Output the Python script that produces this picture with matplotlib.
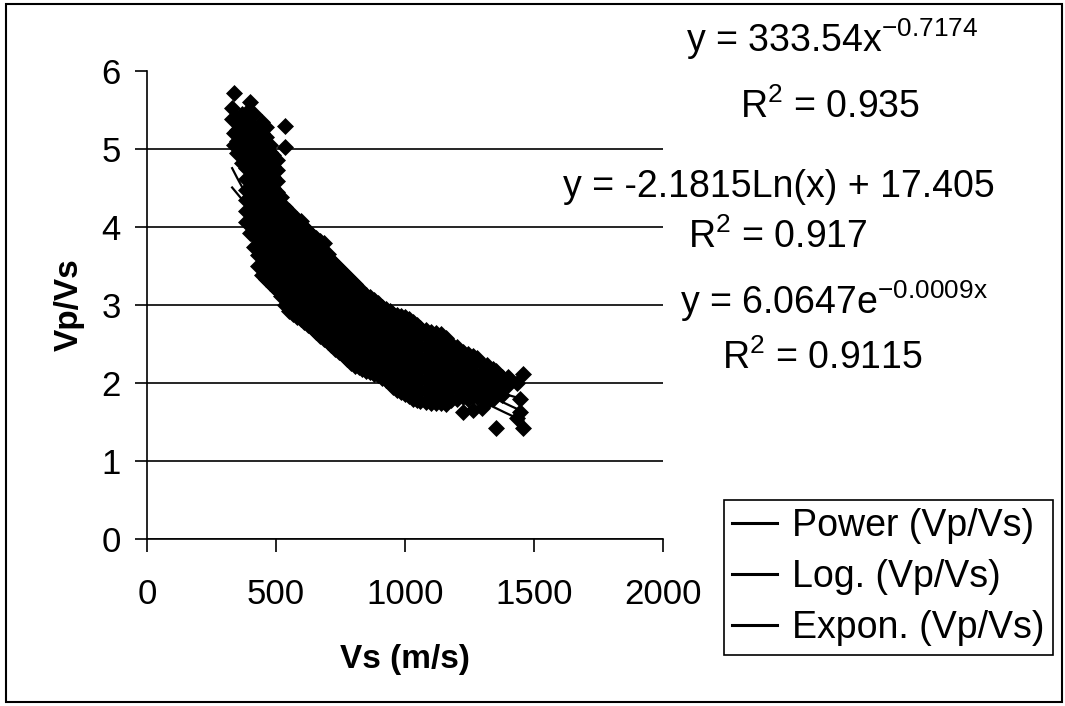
import matplotlib
matplotlib.use("Agg")
import matplotlib.pyplot as plt
import numpy as np
from matplotlib.patches import Rectangle

plt.rcParams["font.family"] = ["Liberation Sans", "DejaVu Sans"]
plt.rcParams["mathtext.fontset"] = "custom"
plt.rcParams["mathtext.rm"] = "Liberation Sans"
plt.rcParams["mathtext.it"] = "Liberation Sans:italic"
plt.rcParams["mathtext.bf"] = "Liberation Sans:bold"

# Vs (m/s) columns and the Vp/Vs readings at each of them
vs_cols = [330, 336, 350, 368, 385, 400, 415, 430, 445, 460, 475, 490, 505, 520,
           535, 550, 565, 580, 595, 610, 625, 640, 655, 670, 685, 700, 715, 730,
           745, 760, 775, 790, 805, 820, 835, 850, 865, 880, 895, 910, 925, 940,
           955, 970, 985, 1000, 1015, 1030, 1045, 1060, 1080, 1100, 1120, 1140,
           1160, 1180, 1200, 1226, 1245, 1265, 1280, 1297, 1317, 1340, 1353,
           1375, 1401, 1433, 1446, 1459]
vpvs_cols = [
    [5.52, 5.38],
    [5.72, 5.05, 5.2],
    [5.39, 5.25, 4.95, 5.1],
    [4.82, 4.96, 5.1, 5.24, 5.31, 5.45],
    [4.06, 4.2, 4.34, 4.48, 4.62, 4.76, 4.9, 5.04, 5.18, 5.32, 5.46],
    [3.92, 4.06, 4.2, 4.34, 4.48, 4.62, 4.76, 4.9, 5.04, 5.18, 5.32, 5.42, 5.6],
    [3.74, 3.88, 4.02, 4.16, 4.3, 4.44, 4.58, 4.72, 4.86, 5.0, 5.14, 5.28, 5.45],
    [3.5, 3.64, 3.78, 3.92, 4.06, 4.2, 4.34, 4.48, 4.62, 4.76, 4.9, 5.04, 5.18, 5.27],
    [3.38, 3.52, 3.66, 3.8, 3.94, 4.08, 4.22, 4.36, 4.5, 4.64, 4.78, 4.92, 5.06, 5.2, 5.35],
    [3.33, 3.47, 3.61, 3.75, 3.89, 4.03, 4.17, 4.31, 4.45, 4.59, 4.73, 4.87, 5.01, 5.15, 5.28],
    [3.28, 3.42, 3.56, 3.7, 3.84, 3.98, 4.12, 4.26, 4.4, 4.54, 4.68, 4.82, 4.96, 5.05],
    [3.24, 3.38, 3.52, 3.66, 3.8, 3.94, 4.08, 4.22, 4.36, 4.5, 4.64, 4.78, 4.92],
    [3.19, 3.33, 3.47, 3.61, 3.75, 3.89, 4.03, 4.17, 4.31, 4.45, 4.59, 4.73, 4.86],
    [3.12, 3.26, 3.4, 3.54, 3.68, 3.82, 3.96, 4.1, 4.24, 4.38],
    [3.0, 3.14, 3.28, 3.42, 3.56, 3.7, 3.84, 3.98, 4.12, 4.26, 5.02, 5.3],
    [2.92, 3.06, 3.2, 3.34, 3.48, 3.62, 3.76, 3.9, 4.04, 4.2],
    [2.88, 3.02, 3.16, 3.3, 3.44, 3.58, 3.72, 3.86, 4.0, 4.14],
    [2.85, 2.99, 3.13, 3.27, 3.41, 3.55, 3.69, 3.83, 3.97, 4.1],
    [2.82, 2.96, 3.1, 3.24, 3.38, 3.52, 3.66, 3.8, 3.94, 4.08],
    [2.78, 2.92, 3.06, 3.2, 3.34, 3.48, 3.62, 3.76, 3.9, 4.0],
    [2.74, 2.88, 3.02, 3.16, 3.3, 3.44, 3.58, 3.72, 3.86, 3.95],
    [2.7, 2.84, 2.98, 3.12, 3.26, 3.4, 3.54, 3.68, 3.82, 3.9],
    [2.65, 2.79, 2.93, 3.07, 3.21, 3.35, 3.49, 3.63, 3.77, 3.86],
    [2.6, 2.74, 2.88, 3.02, 3.16, 3.3, 3.44, 3.58, 3.72, 3.82],
    [2.57, 2.71, 2.85, 2.99, 3.13, 3.27, 3.41, 3.55, 3.69, 3.79],
    [2.53, 2.67, 2.81, 2.95, 3.09, 3.23, 3.37, 3.51, 3.65],
    [2.49, 2.63, 2.77, 2.91, 3.05, 3.19, 3.33, 3.47, 3.58],
    [2.44, 2.58, 2.72, 2.86, 3.0, 3.14, 3.28, 3.42, 3.52],
    [2.4, 2.54, 2.68, 2.82, 2.96, 3.1, 3.24, 3.38, 3.47],
    [2.36, 2.5, 2.64, 2.78, 2.92, 3.06, 3.2, 3.34, 3.42],
    [2.31, 2.45, 2.59, 2.73, 2.87, 3.01, 3.15, 3.29, 3.37],
    [2.26, 2.4, 2.54, 2.68, 2.82, 2.96, 3.1, 3.24, 3.32],
    [2.22, 2.36, 2.5, 2.64, 2.78, 2.92, 3.06, 3.2, 3.27],
    [2.2, 2.34, 2.48, 2.62, 2.76, 2.9, 3.04, 3.18, 3.22],
    [2.18, 2.32, 2.46, 2.6, 2.74, 2.88, 3.02, 3.16],
    [2.16, 2.3, 2.44, 2.58, 2.72, 2.86, 3.0, 3.13],
    [2.14, 2.28, 2.42, 2.56, 2.7, 2.84, 2.98, 3.1],
    [2.12, 2.26, 2.4, 2.54, 2.68, 2.82, 2.96, 3.06],
    [2.1, 2.24, 2.38, 2.52, 2.66, 2.8, 2.94, 3.02],
    [2.07, 2.21, 2.35, 2.49, 2.63, 2.77, 2.91, 2.98],
    [2.04, 2.18, 2.32, 2.46, 2.6, 2.74, 2.88, 2.95],
    [2.0, 2.14, 2.28, 2.42, 2.56, 2.7, 2.84, 2.92],
    [1.95, 2.09, 2.23, 2.37, 2.51, 2.65, 2.79, 2.89],
    [1.91, 2.05, 2.19, 2.33, 2.47, 2.61, 2.75, 2.87],
    [1.88, 2.02, 2.16, 2.3, 2.44, 2.58, 2.72, 2.86],
    [1.86, 2.0, 2.14, 2.28, 2.42, 2.56, 2.7, 2.84],
    [1.83, 1.97, 2.11, 2.25, 2.39, 2.53, 2.67, 2.82],
    [1.79, 1.93, 2.07, 2.21, 2.35, 2.49, 2.63, 2.78],
    [1.78, 1.92, 2.06, 2.2, 2.34, 2.48, 2.62, 2.75],
    [1.77, 1.91, 2.05, 2.19, 2.33, 2.47, 2.61, 2.71],
    [1.76, 1.9, 2.04, 2.18, 2.32, 2.46, 2.6, 2.68],
    [1.75, 1.89, 2.03, 2.17, 2.31, 2.45, 2.58, 2.66],
    [1.74, 1.88, 2.02, 2.16, 2.3, 2.44, 2.57, 2.64],
    [1.74, 1.88, 2.02, 2.16, 2.3, 2.44, 2.56, 2.63],
    [1.73, 1.87, 2.01, 2.15, 2.29, 2.43, 2.58],
    [1.78, 1.92, 2.06, 2.2, 2.34, 2.5],
    [1.8, 1.94, 2.08, 2.22, 2.36, 2.46],
    [1.63, 1.82, 1.96, 2.1, 2.24, 2.4],
    [1.8, 1.94, 2.08, 2.22, 2.37],
    [1.65, 1.83, 1.97, 2.11, 2.25, 2.34],
    [1.82, 1.96, 2.1, 2.32],
    [1.68, 1.84, 1.98, 2.12, 2.25],
    [1.76, 1.9, 2.04, 2.23],
    [1.8, 1.94, 2.08, 2.18],
    [1.42, 1.88, 2.02, 2.15],
    [1.85, 1.98, 2.08],
    [1.97, 2.08],
    [1.55, 2.0],
    [1.63, 1.8],
    [1.42, 2.12],
]

# trendline coefficients
power_a, power_b, power_r2 = 333.54, -0.7174, 0.935
log_a, log_b, log_r2 = -2.1815, 17.405, 0.917
expon_a, expon_b, expon_r2 = 6.0647, -0.0009, 0.9115

x_ticks = [0, 500, 1000, 1500, 2000]
y_ticks = [0, 1, 2, 3, 4, 5, 6]

vs = np.array([v for v, col in zip(vs_cols, vpvs_cols) for _ in col], dtype=float)
vpvs = np.array([y for col in vpvs_cols for y in col], dtype=float)

W, H = 1065, 706
fig = plt.figure(figsize=(W / 100, H / 100), dpi=100)
ax = fig.add_axes([147 / W, 1 - 539 / H, (663 - 147) / W, (539 - 71) / H])

ax.scatter(vs, vpvs, marker="D", s=75, color="black", linewidths=0, zorder=3)

# fitted curves over the data range
xf = np.linspace(vs.min(), vs.max(), 300)
ax.plot(xf, power_a * xf ** power_b, color="black", lw=1.6, zorder=4, label="Power (Vp/Vs)")
ax.plot(xf, log_a * np.log(xf) + log_b, color="black", lw=1.6, zorder=4, label="Log. (Vp/Vs)")
ax.plot(xf, expon_a * np.exp(expon_b * xf), color="black", lw=1.6, zorder=4, label="Expon. (Vp/Vs)")

ax.set_xlim(0, 2000)
ax.set_ylim(0, 6)
ax.set_xticks(x_ticks)
ax.set_yticks(y_ticks)
ax.tick_params(axis="both", labelsize=25, direction="out", length=9, width=1.2, color="black")
ax.tick_params(axis="x", pad=19)
ax.tick_params(axis="y", pad=10)

ax.grid(axis="y", color="black", lw=1.2)
ax.get_ygridlines()[-1].set_visible(False)
ax.set_axisbelow(True)
for side in ("top", "right"):
    ax.spines[side].set_visible(False)
for side in ("left", "bottom"):
    ax.spines[side].set_linewidth(1.2)

ax.set_xlabel("Vs (m/s)", fontsize=24, fontweight="bold")
ax.set_ylabel("Vp/Vs", fontsize=24, fontweight="bold")
ax.xaxis.set_label_coords(0.5, -0.225)
ax.yaxis.set_label_coords(-0.12, 0.5)

# trendline equations
fs_eq = 27
fig.text(832 / W, 1 - 52 / H, r"y = 333.54x$^{\mathrm{-0.7174}}$", fontsize=fs_eq, ha="center", va="baseline")
fig.text(830 / W, 1 - 118 / H, r"R$^{\mathrm{2}}$ = 0.935", fontsize=fs_eq, ha="center", va="baseline")
fig.text(779 / W, 1 - 197 / H, "y = -2.1815Ln(x) + 17.405", fontsize=fs_eq, ha="center", va="baseline")
fig.text(778 / W, 1 - 248 / H, r"R$^{\mathrm{2}}$ = 0.917", fontsize=fs_eq, ha="center", va="baseline")
fig.text(834 / W, 1 - 314 / H, r"y = 6.0647e$^{\mathrm{-0.0009x}}$", fontsize=fs_eq, ha="center", va="baseline")
fig.text(822 / W, 1 - 369 / H, r"R$^{\mathrm{2}}$ = 0.9115", fontsize=fs_eq, ha="center", va="baseline")

leg = fig.legend(loc="upper left", bbox_to_anchor=(724 / W, 1 - 500 / H), fontsize=27,
                 frameon=True, fancybox=False, edgecolor="black", framealpha=1,
                 handlelength=1.2, handletextpad=0.4, labelspacing=0.4,
                 borderpad=0.22, borderaxespad=0)
leg.get_frame().set_linewidth(1.2)
for line in leg.get_lines():
    line.set_linewidth(2.2)

# outer chart border
fig.patches.append(Rectangle((6 / W, 4 / H), (1062 - 6) / W, (702 - 4) / H, fill=False,
                             edgecolor="black", lw=1.5, transform=fig.transFigure))

fig.savefig("out.png", dpi=100)
